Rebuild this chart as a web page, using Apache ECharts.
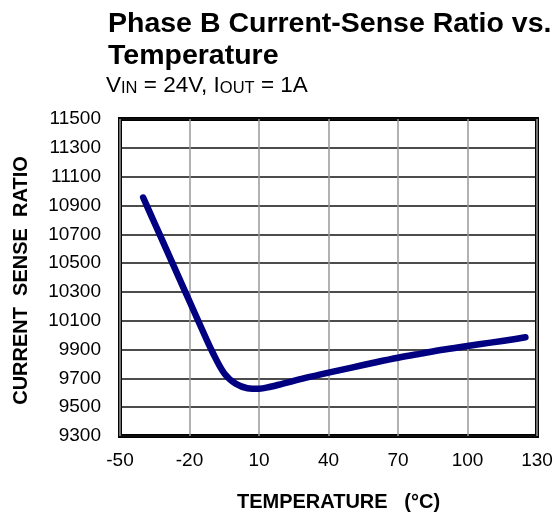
<!DOCTYPE html>
<html>
<head>
<meta charset="utf-8">
<script src="https://cdn.jsdelivr.net/npm/echarts@6/dist/echarts.min.js"></script>
<style>
html,body{margin:0;padding:0;background:#fff;}
#c{width:557px;height:517px;}
</style>
</head>
<body>
<div id="c"></div>
<script>
const temperature = [-40, -35, -30, -25, -20, -15, -10, -5, 0, 5, 10, 15, 20, 30, 40, 50, 60, 70, 80, 90, 100, 110, 120, 125];
const ratio = [10955, 10775, 10595, 10415, 10235, 10055, 9880, 9735, 9662, 9632, 9628, 9642, 9662, 9703, 9740, 9775, 9810, 9843, 9872, 9900, 9925, 9948, 9972, 9985];
const xTicks = [-50, -20, 10, 40, 70, 100, 130];
const yTicks = [9300, 9500, 9700, 9900, 10100, 10300, 10500, 10700, 10900, 11100, 11300, 11500];

const FONT = "'Liberation Sans', Arial, sans-serif";
const chart = echarts.init(document.getElementById('c'), null, {renderer: 'canvas'});
chart.setOption({
  animation: false,
  backgroundColor: '#fff',
  title: [
    {
      text: 'Phase B Current-Sense Ratio vs.\nTemperature',
      left: 103, top: 3,
      textStyle: {fontFamily: FONT, fontSize: 28.5, fontWeight: 'bold', color: '#000', lineHeight: 32}
    },
    {
      text: 'V{s|IN} = 24V, I{s|OUT} = 1A',
      left: 101, top: 69,
      textStyle: {
        fontFamily: FONT, fontSize: 22.5, fontWeight: 'normal', color: '#000', lineHeight: 24,
        rich: {
          s: {fontFamily: FONT, fontSize: 16.5, fontWeight: 'normal', color: '#000', lineHeight: 24, verticalAlign: 'bottom', padding: [0,0,1,0]}
        }
      }
    }
  ],
  grid: {
    left: 120, right: 20, top: 119, bottom: 79,
    show: true, borderColor: '#000', borderWidth: 4, backgroundColor: 'transparent'
  },
  xAxis: {
    type: 'value', min: xTicks[0], max: xTicks[xTicks.length - 1], interval: 30,
    axisLine: {show: false}, axisTick: {show: false},
    splitLine: {show: true, lineStyle: {color: '#999', width: 1.5}},
    axisLabel: {fontFamily: FONT, fontSize: 19, color: '#000', margin: 15},
    name: 'TEMPERATURE   (°C)', nameLocation: 'middle', nameGap: 56,
    nameTextStyle: {fontFamily: FONT, fontSize: 20, fontWeight: 'bold', color: '#000', padding: [0, 0, 0, 20]}
  },
  yAxis: {
    type: 'value', min: yTicks[0], max: yTicks[yTicks.length - 1], interval: 200,
    axisLine: {show: false}, axisTick: {show: false},
    splitLine: {show: true, lineStyle: {color: '#111', width: 1.5}},
    axisLabel: {fontFamily: FONT, fontSize: 19, color: '#000', margin: 19, formatter: v => String(v)},
    name: 'CURRENT  SENSE  RATIO', nameLocation: 'middle', nameGap: 89, nameRotate: 90,
    nameTextStyle: {fontFamily: FONT, fontSize: 20, fontWeight: 'bold', color: '#000', padding: [0, 6, 0, 0]}
  },
  series: [{
    type: 'line',
    data: temperature.map((t, i) => [t, ratio[i]]),
    smooth: 0.35,
    showSymbol: false,
    lineStyle: {color: '#000080', width: 6.5, cap: 'round', join: 'round'},
    z: 5
  }]
});
</script>
</body>
</html>
